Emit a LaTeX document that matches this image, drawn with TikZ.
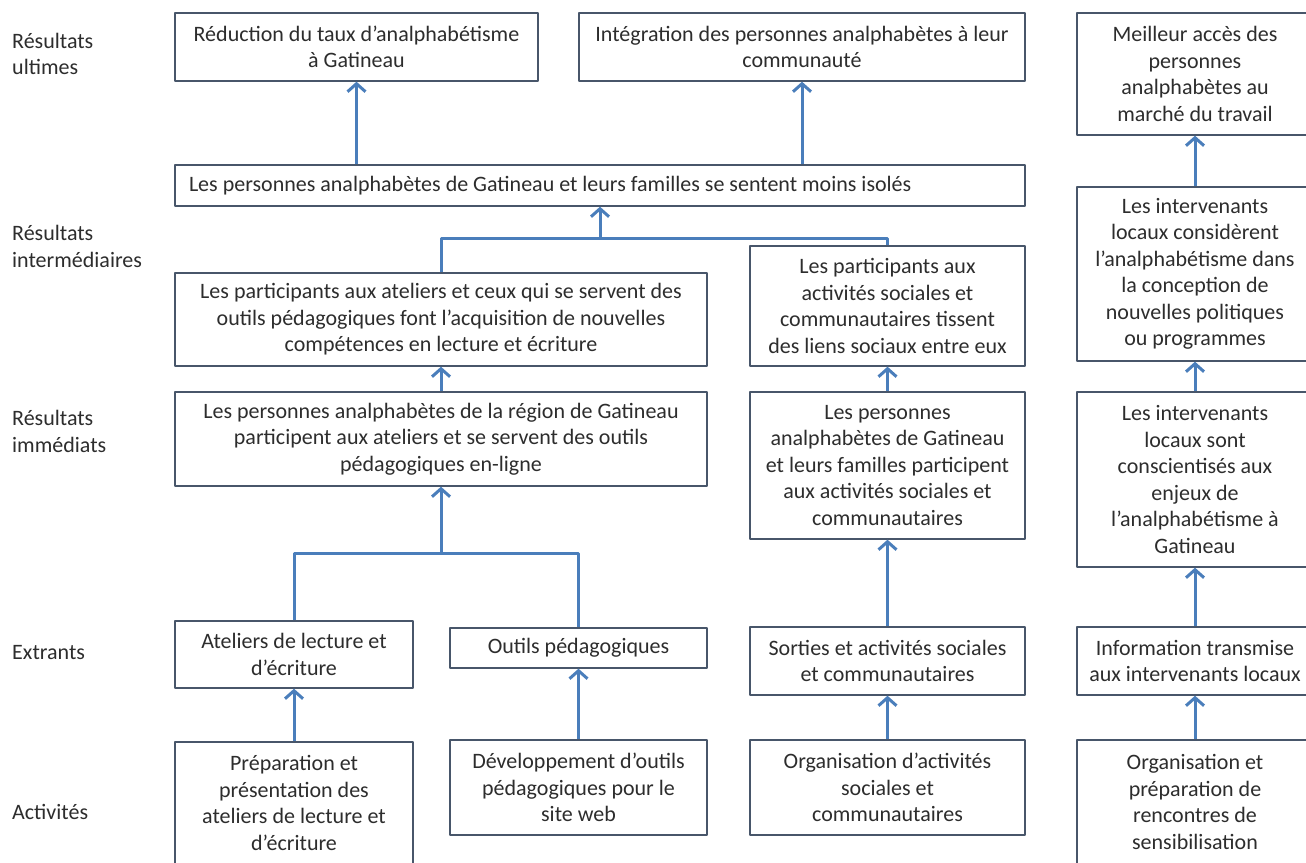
\documentclass[tikz,border=0pt]{standalone}
\usepackage{fontspec}
\setmainfont{Carlito}
\usetikzlibrary{arrows.meta}
\definecolor{bleu}{RGB}{74,126,187}
\definecolor{cadre}{RGB}{72,86,106}
\definecolor{texte}{RGB}{45,45,45}
\begin{document}
\begin{tikzpicture}[join=round,x=1pt,y=-1pt,font=\fontsize{22}{26.5}\selectfont,text=texte]
\tikzstyle{boite} = [draw=cadre,line width=1.4pt,fill=white,align=center,inner sep=0pt]
\tikzstyle{niveau} = [anchor=west,align=flush left,inner sep=0pt]
\tikzstyle{lien} = [draw=bleu,line width=3pt]
\tikzstyle{fleche} = [lien,-{Straight Barb[length=8pt,width=18pt]}]
\fill[white] (0,0) rectangle (1306,862);
\useasboundingbox (0,0) rectangle (1306,862);
%niveaux
\draw(12,54)node[niveau](ultimes){Résultats\\ultimes};
\draw(12,246.5)node[niveau](intermediaires){Résultats\\intermédiaires};
\draw(12,431.5)node[niveau](immediats){Résultats\\immédiats};
\draw(12,653)node[niveau](extrants){Extrants};
\draw(12,812)node[niveau](activites){Activités};
%résultats ultimes
\draw(356.5,47)node[boite,minimum width=363pt,minimum height=68pt](reduction){Réduction du taux d’analphabétisme\\à Gatineau};
\draw(802,47)node[boite,minimum width=446pt,minimum height=68pt](integration){Intégration des personnes analphabètes à leur\\communauté};
\draw(1195,74)node[boite,minimum width=236pt,minimum height=122pt](acces){Meilleur accès des\\personnes\\analphabètes au\\marché du travail};
%résultats intermédiaires
\draw(600,185.5)node[boite,align=flush left,text width=822pt,minimum width=850pt,minimum height=41pt](isoles){Les personnes analphabètes de Gatineau et leurs familles se sentent moins isolés};
\draw(1195,274)node[boite,minimum width=236pt,minimum height=174pt](considerent){Les intervenants\\locaux considèrent\\l’analphabétisme dans\\la conception de\\nouvelles politiques\\ou programmes};
\draw(441,319.5)node[boite,minimum width=532pt,minimum height=93pt](competences){Les participants aux ateliers et ceux qui se servent des\\outils pédagogiques font l’acquisition de nouvelles\\compétences en lecture et écriture};
\draw(887.5,306)node[boite,minimum width=275pt,minimum height=120pt](liens){Les participants aux\\activités sociales et\\communautaires tissent\\des liens sociaux entre eux};
%résultats immédiats
\draw(441,439)node[boite,minimum width=532pt,minimum height=94pt](region){Les personnes analphabètes de la région de Gatineau\\participent aux ateliers et se servent des outils\\pédagogiques en-ligne};
\draw(887.5,465.5)node[boite,minimum width=275pt,minimum height=147pt](familles){Les personnes\\analphabètes de Gatineau\\et leurs familles participent\\aux activités sociales et\\communautaires};
\draw(1195,479.5)node[boite,minimum width=236pt,minimum height=175pt](conscients){Les intervenants\\locaux sont\\conscientisés aux\\enjeux de\\l’analphabétisme à\\Gatineau};
%extrants
\draw(294,654.5)node[boite,minimum width=238pt,minimum height=67pt](ateliers){Ateliers de lecture et\\d’écriture};
\draw(578.5,648)node[boite,minimum width=257pt,minimum height=40pt](outils){Outils pédagogiques};
\draw(887.5,661)node[boite,minimum width=275pt,minimum height=68pt](sorties){Sorties et activités sociales\\et communautaires};
\draw(1195,661)node[boite,minimum width=236pt,minimum height=68pt](information){Information transmise\\aux intervenants locaux};
%activités
\draw(294,803)node[boite,minimum width=238pt,minimum height=122pt](preparation){Préparation et\\présentation des\\ateliers de lecture et\\d’écriture};
\draw(578.5,787.5)node[boite,minimum width=257pt,minimum height=95pt](developpement){Développement d’outils\\pédagogiques pour le\\site web};
\draw(887.5,787.5)node[boite,minimum width=275pt,minimum height=95pt](organisation){Organisation d’activités\\sociales et\\communautaires};
\draw(1195,802)node[boite,minimum width=236pt,minimum height=124pt](rencontres){Organisation et\\préparation de\\rencontres de\\sensibilisation};
%jonctions
\coordinate (haut) at (600,238);
\coordinate (bas) at (441,553);
%flèches
\draw[fleche] (isoles.north -| reduction.south)--(reduction.south);
\draw[fleche] (isoles.north -| integration.south)--(integration.south);
\draw[lien] (competences.north)|-(haut)-|(liens.north);
\draw[fleche] (haut)--(isoles.south);
\draw[fleche] (region.north)--(competences.south);
\draw[lien] (ateliers.north)|-(bas)-|(outils.north);
\draw[fleche] (bas)--(region.south);
\draw[fleche] (preparation.north)--(ateliers.south);
\draw[fleche] (developpement.north)--(outils.south);
\draw[fleche] (familles.north)--(liens.south);
\draw[fleche] (sorties.north)--(familles.south);
\draw[fleche] (organisation.north)--(sorties.south);
\draw[fleche] (considerent.north)--(acces.south);
\draw[fleche] (conscients.north)--(considerent.south);
\draw[fleche] (information.north)--(conscients.south);
\draw[fleche] (rencontres.north)--(information.south);
\end{tikzpicture}
\end{document}
